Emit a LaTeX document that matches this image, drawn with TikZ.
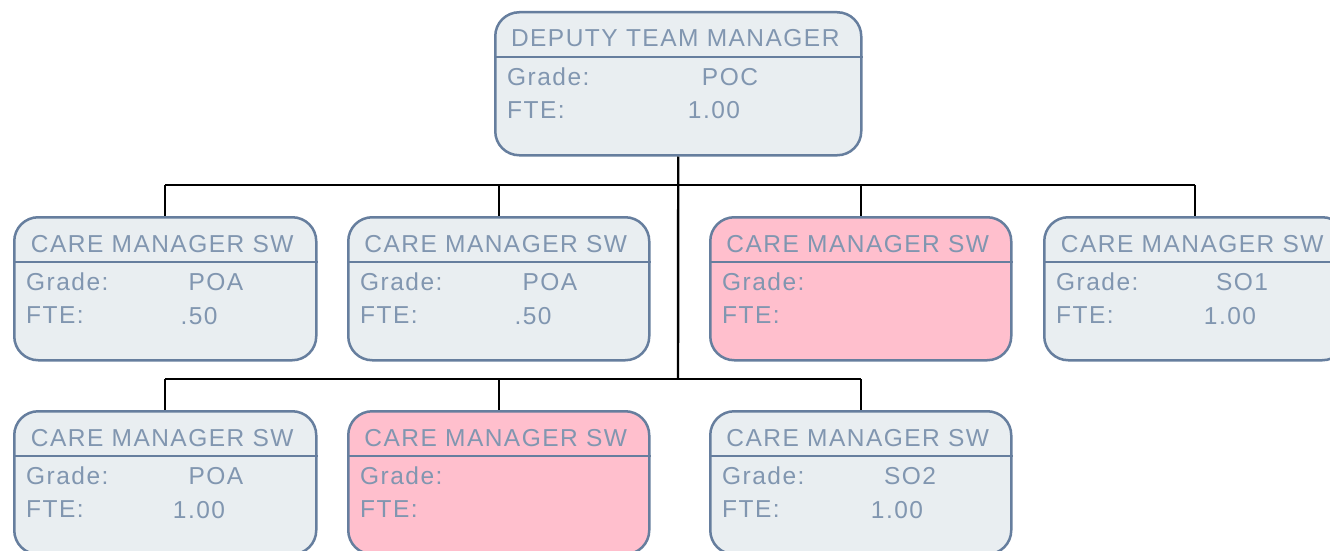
\documentclass[tikz,border=0pt]{standalone}
\usepackage{fontspec}
\setmainfont{Liberation Sans}[LetterSpace=6]
\definecolor{boxfill}{HTML}{E9EEF1}
\definecolor{boxpink}{HTML}{FFBFCD}
\definecolor{boxline}{HTML}{667E9E}
\definecolor{boxtext}{HTML}{8196B0}
\tikzset{
  orgbox/.style={draw=boxline, line width=2.5pt, rounded corners=24pt, minimum height=143pt, anchor=north west, inner sep=0pt},
  divider/.style={draw=boxline, line width=2.5pt},
  txt/.style={text=boxtext, font=\fontsize{24.5}{28}\selectfont, inner sep=0pt},
  conn/.style={draw=black, line width=2.4pt}
}
\newcommand{\orgbox}[6]{%
  \node[orgbox, fill=#5, minimum width=#4pt] (#1) at (#2,#3) {};
  \draw[divider] ([yshift=-46pt]#1.north west) -- ([yshift=-46pt]#1.north east);
  \node[txt, anchor=base] (#1-t) at ([xshift=-3pt,yshift=-36pt]#1.north) {#6};
  \node[txt, anchor=base west] (#1-g) at ([xshift=13pt,yshift=-74pt]#1.north west) {Grade:};
  \node[txt, anchor=base west] (#1-f) at ([xshift=13pt,yshift=-107pt]#1.north west) {FTE:};
}
\begin{document}
\begin{tikzpicture}[x=1pt,y=-1pt]
\useasboundingbox (0,0) rectangle (1330,551);
\clip (0,0) rectangle (1330,551);
\fill[white] (0,0) rectangle (1330,551);
\coordinate (j1) at (678,185);
\coordinate (j2) at (678,379);
\orgbox{top}{494}{11}{366}{boxfill}{DEPUTY TEAM MANAGER}
\orgbox{b1}{13}{216}{302}{boxfill}{CARE MANAGER SW}
\orgbox{b2}{347}{216}{301}{boxfill}{CARE MANAGER SW}
\orgbox{b3}{709}{216}{301}{boxpink}{CARE MANAGER SW}
\orgbox{b4}{1043}{216}{302}{boxfill}{CARE MANAGER SW}
\orgbox{b5}{13}{410}{302}{boxfill}{CARE MANAGER SW}
\orgbox{b6}{347}{410}{301}{boxpink}{CARE MANAGER SW}
\orgbox{b7}{709}{410}{301}{boxfill}{CARE MANAGER SW}
% values
\node[txt, anchor=base] (top-gv) at (730,85) {POC};
\node[txt, anchor=base] (top-fv) at (714,118) {1.00};
\node[txt, anchor=base] (b1-gv) at (216,290) {POA};
\node[txt, anchor=base] (b1-fv) at (199,324) {.50};
\node[txt, anchor=base] (b2-gv) at (550,290) {POA};
\node[txt, anchor=base] (b2-fv) at (533,324) {.50};
\node[txt, anchor=base] (b4-gv) at (1242,290) {SO1};
\node[txt, anchor=base] (b4-fv) at (1230,324) {1.00};
\node[txt, anchor=base] (b5-gv) at (216,484) {POA};
\node[txt, anchor=base] (b5-fv) at (199,518) {1.00};
\node[txt, anchor=base] (b7-gv) at (910,484) {SO2};
\node[txt, anchor=base] (b7-fv) at (897,518) {1.00};
% lines
\draw[conn] (top.south) -- (j2);
\draw[conn] (b1.north |- j1) -- (b4.north |- j1);
\draw[conn] (b1.north |- j1) -- (b1.north);
\draw[conn] (b2.north |- j1) -- (b2.north);
\draw[conn] (b3.north |- j1) -- (b3.north);
\draw[conn] (b4.north |- j1) -- (b4.north);
\draw[conn] (b5.north |- j2) -- (b7.north |- j2);
\draw[conn] (b5.north |- j2) -- (b5.north);
\draw[conn] (b6.north |- j2) -- (b6.north);
\draw[conn] (b7.north |- j2) -- (b7.north);
\end{tikzpicture}
\end{document}
